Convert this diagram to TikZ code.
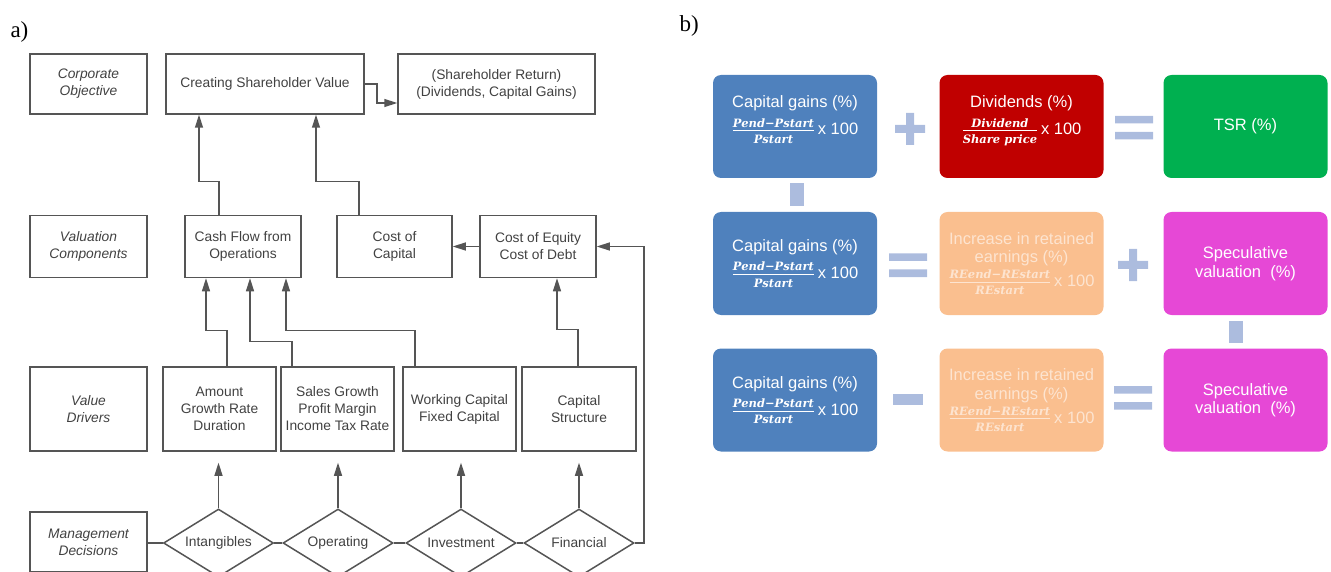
\documentclass[tikz,border=0pt]{standalone}
\usepackage{amsmath}
\usepackage{fontspec}
\setmainfont{Liberation Sans}
\newfontfamily\labelfont{Liberation Serif}
\newfontfamily\fracfont{DejaVu Serif}
\usetikzlibrary{shapes.geometric,arrows.meta,positioning}

\definecolor{boxline}{RGB}{85,85,85}
\definecolor{boxtext}{RGB}{65,65,65}
\definecolor{tsrblue}{RGB}{79,129,189}
\definecolor{tsrred}{RGB}{192,0,0}
\definecolor{tsrgreen}{RGB}{0,176,80}
\definecolor{tsrorange}{RGB}{250,191,143}
\definecolor{tsrmagenta}{RGB}{230,72,214}
\definecolor{opcolor}{RGB}{172,188,222}
\definecolor{fainttext}{RGB}{253,228,208}

% fraction with "x 100" behind it
\newcommand{\fractext}[1]{\text{\fracfont\bfseries\itshape\fontsize{11.5}{13}\selectfont #1}}
\newcommand{\pctfrac}[2]{$\tfrac{\fractext{#1}\rule[-2.5pt]{0pt}{2pt}}{\rule{0pt}{11.5pt}\fractext{#2}}$\,x 100}

\begin{document}
\begin{tikzpicture}[x=1pt,y=-1pt,
  >={Triangle[length=13pt,width=8pt]},
  flowbox/.style={draw=boxline,line width=1.5pt,text=boxtext,align=center,inner sep=0pt,font=\fontsize{13.8}{17}\selectfont},
  levelbox/.style={flowbox,font=\fontsize{13.8}{17}\selectfont\itshape},
  decision/.style={diamond,draw=boxline,line width=1.5pt,text=boxtext,aspect=1.6,inner sep=0pt,minimum width=110pt,minimum height=68pt,font=\fontsize{13.8}{17}\selectfont},
  link/.style={draw=boxline,line width=1.5pt},
  tsrbox/.style={rounded corners=8pt,minimum width=164pt,minimum height=103pt,text=white,align=center,inner sep=0pt,font=\fontsize{16.5}{18.5}\selectfont},
  toprow/.style={text depth=22pt},
  op/.style={fill=opcolor}]
\useasboundingbox (0,0) rectangle (1331,572);

% Panel labels
\node[anchor=base west,font=\labelfont\fontsize{23}{25}\selectfont] (lbla) at (7,38) {a)};
\node[anchor=base west,font=\labelfont\fontsize{23}{25}\selectfont] (lblb) at (676,32) {b)};

% a) Corporate objective row
\node[levelbox,minimum width=117pt,minimum height=60pt] (corp) at (88.5,84) {Corporate\\Objective};
\node[flowbox,minimum width=198pt,minimum height=60pt] (csv) at (265,84) {Creating Shareholder Value};
\node[flowbox,minimum width=197pt,minimum height=60pt] (ret) at (496.5,84) {(Shareholder Return)\\(Dividends, Capital Gains)};

% Valuation components
\node[levelbox,minimum width=117pt,minimum height=62pt] (valc) at (88.5,246.5) {Valuation\\Components};
\node[flowbox,minimum width=116pt,minimum height=62pt] (cfo) at (243,246.5) {Cash Flow from\\Operations};
\node[flowbox,minimum width=115pt,minimum height=62pt] (coc) at (394.5,246.5) {Cost of\\Capital};
\node[flowbox,minimum width=116pt,minimum height=62pt] (coe) at (538,246.5) {Cost of Equity\\Cost of Debt};

% Value drivers
\node[levelbox,minimum width=117pt,minimum height=84pt] (vdrv) at (88.5,409) {Value\\Drivers};
\node[flowbox,minimum width=113pt,minimum height=84pt] (amt) at (219.5,409) {Amount\\Growth Rate\\Duration};
\node[flowbox,minimum width=113pt,minimum height=84pt] (sg) at (337.5,409) {Sales Growth\\Profit Margin\\Income Tax Rate};
\node[flowbox,minimum width=113pt,minimum height=84pt] (wc) at (459.5,409) {Working Capital\\Fixed Capital};
\node[flowbox,minimum width=114pt,minimum height=84pt] (cs) at (579,409) {Capital\\Structure};

% Management decisions
\node[levelbox,minimum width=117pt,minimum height=60pt] (mgmt) at (88.5,542) {Management\\Decisions};
\node[decision] (int) at (218.5,543) {Intangibles};
\node[decision] (opr) at (338,543) {Operating};
\node[decision] (inv) at (461,543) {Investment};
\node[decision] (fin) at (579,543) {Financial};

% Connectors
\draw[link,->] (csv.east) -- ++(12,0) |- ([yshift=-19pt]ret.west);
\draw[link,->] ([xshift=-24pt]cfo.north) -- ++(0,-33) -| ([xshift=-66pt]csv.south);
\draw[link,->] ([xshift=-35.5pt]coc.north) -- ++(0,-33) -| ([xshift=51pt]csv.south);
\draw[link,->] (coe.west) -- (coc.east);
\draw[link,->] ([xshift=7.5pt]amt.north) -- ++(0,-36) -| ([xshift=-37pt]cfo.south);
\draw[link,->] ([xshift=-45.5pt]sg.north) -- ++(0,-25) -| ([xshift=7pt]cfo.south);
\draw[link,->] ([xshift=-44.5pt]wc.north) -- ++(0,-36) -| ([xshift=43pt]cfo.south);
\draw[link,->] ([xshift=-1pt]cs.north) -- ++(0,-37) -| ([xshift=19pt]coe.south);
\foreach \d/\b in {int/amt,opr/sg,inv/wc,fin/cs}
  \draw[link,->,shorten >=11pt] (\d.north) -- (\d.north |- \b.south);
\draw[link] (mgmt.east |- int.west) -- (int.west) (int.east) -- (opr.west)
  (opr.east) -- (inv.west) (inv.east) -- (fin.west);
\draw[link,->] (fin.east) -- ++(9,0) |- (coe.east);

% b) TSR decomposition
\node[tsrbox,toprow,fill=tsrblue] (cg1) at (795,126.5) {Capital gains (\%)\\[6pt]\pctfrac{Pend−Pstart}{Pstart}};
\node[tsrbox,toprow,fill=tsrred] (div) at (1021.5,126.5) {Dividends (\%)\\[6pt]\pctfrac{Dividend}{Share price}};
\node[tsrbox,fill=tsrgreen] (tsr) at (1245.5,126.5) {TSR (\%)};

\node[tsrbox,fill=tsrblue] (cg2) at (795,263.5) {Capital gains (\%)\\[6pt]\pctfrac{Pend−Pstart}{Pstart}};
\node[tsrbox,fill=tsrorange,text=fainttext] (re2) at (1021.5,263.5) {Increase in retained\\earnings (\%)\\[3pt]\pctfrac{REend−REstart}{REstart}};
\node[tsrbox,fill=tsrmagenta] (spv2) at (1245.5,263.5) {Speculative\\valuation\ \ (\%)};

\node[tsrbox,fill=tsrblue] (cg3) at (795,400) {Capital gains (\%)\\[6pt]\pctfrac{Pend−Pstart}{Pstart}};
\node[tsrbox,fill=tsrorange,text=fainttext] (re3) at (1021.5,400) {Increase in retained\\earnings (\%)\\[3pt]\pctfrac{REend−REstart}{REstart}};
\node[tsrbox,fill=tsrmagenta] (spv3) at (1245.5,400) {Speculative\\valuation\ \ (\%)};

% operator signs
\foreach \ex/\ey in {1134/128, 908/265.5, 1133/398}
  \fill[op] (\ex-19,\ey-12) rectangle (\ex+19,\ey-4.5)
            (\ex-19,\ey+4) rectangle (\ex+19,\ey+11.5);
\foreach \px/\py in {910/129, 1133/265}
  \fill[op] (\px-15,\py-4) rectangle (\px+15,\py+4)
            (\px-4,\py-16) rectangle (\px+4,\py+16);
\fill[op] (790,183) rectangle (804,206);
\fill[op] (1229,321) rectangle (1243,343);
\fill[op] (893,394) rectangle (923,405);
\end{tikzpicture}
\end{document}
